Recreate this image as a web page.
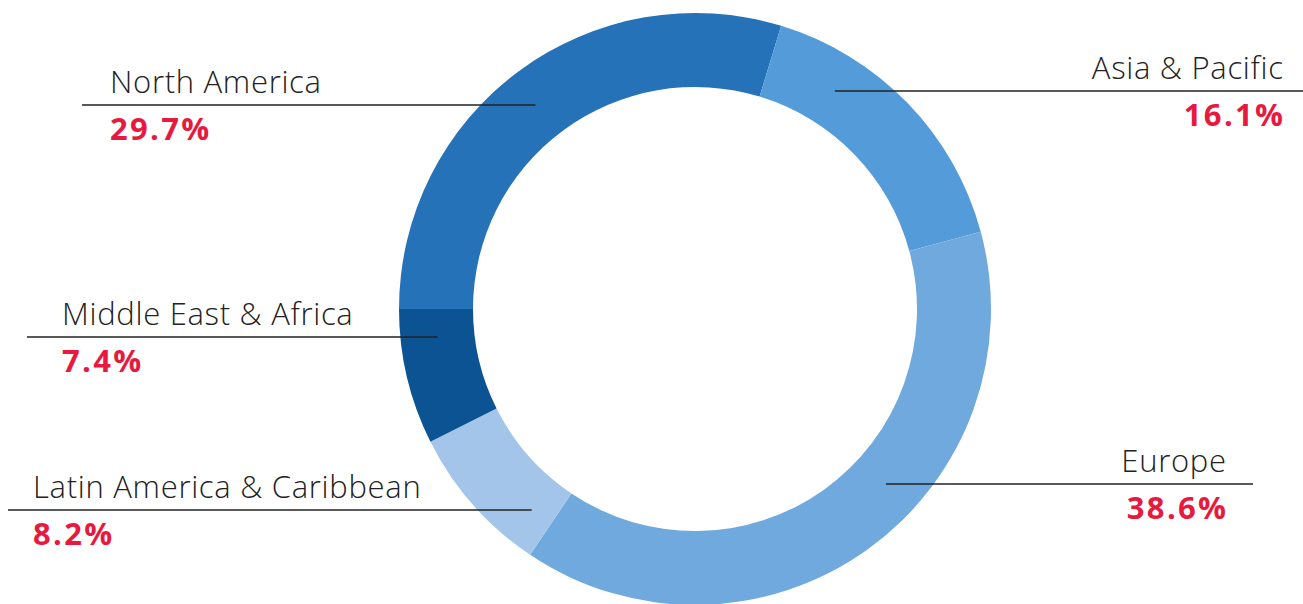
<!DOCTYPE html>
<html>
<head>
<meta charset="utf-8">
<script src="https://cdn.jsdelivr.net/npm/d3@7"></script>
<style>
  body { margin: 0; background: #fff; }
  #chart { width: 1303px; height: 604px; overflow: hidden; }
</style>
</head>
<body>
<div id="chart"></div>
<script>
  // Data
  const regions = [
    "North America",
    "Asia & Pacific",
    "Europe",
    "Latin America & Caribbean",
    "Middle East & Africa"
  ];
  const shares = [29.7, 16.1, 38.6, 8.2, 7.4];
  const colors = ["#2572b8", "#549bd9", "#6fa9dd", "#a2c5e9", "#0c5394"];

  // label layout: leader line y, outer end x, side
  const labelLayout = [
    { y: 105, x: 82, side: "left", textX: 110 },
    { y: 91, x: 1303, side: "right", textX: 1283 },
    { y: 484, x: 1253, side: "right", textX: 1226 },
    { y: 510, x: 8, side: "left", textX: 33 },
    { y: 337, x: 27, side: "left", textX: 62 }
  ];

  const dimensions = {
    width: 1303,
    height: 604,
    cx: 695,
    cy: 309,
    outer: 296,
    inner: 222
  };

  const data = regions.map((r, i) => ({
    region: r,
    value: shares[i],
    color: colors[i],
    layout: labelLayout[i]
  }));

  const svg = d3
    .select("#chart")
    .append("svg")
    .attr("width", dimensions.width)
    .attr("height", dimensions.height);

  const pie = d3
    .pie()
    .sort(null)
    .value((d) => d.value)
    .startAngle(-Math.PI / 2)
    .endAngle((3 * Math.PI) / 2);

  const arc = d3
    .arc()
    .innerRadius(dimensions.inner)
    .outerRadius(dimensions.outer);

  const ring = svg
    .append("g")
    .attr("transform", `translate(${dimensions.cx}, ${dimensions.cy})`);

  ring
    .selectAll("path")
    .data(pie(data))
    .join("path")
    .attr("d", arc)
    .attr("fill", (d) => d.data.color);

  // Leader lines + labels
  const midR = (dimensions.inner + dimensions.outer) / 2;
  const labels = svg.append("g");
  const nameSpacing = 0.7;
  const pctSpacing = 2.3;

  data.forEach((d) => {
    const l = d.layout;
    const dy = l.y - dimensions.cy;
    const dx = Math.sqrt(midR * midR - dy * dy);
    const innerX = l.side === "left" ? dimensions.cx - dx : dimensions.cx + dx;
    const anchor = l.side === "left" ? "start" : "end";
    const isRight = l.side === "right";

    labels
      .append("line")
      .attr("x1", l.x)
      .attr("x2", innerX)
      .attr("y1", l.y)
      .attr("y2", l.y)
      .attr("stroke", "#222")
      .attr("stroke-width", 1.6);

    labels
      .append("text")
      .attr("x", l.textX + (isRight ? nameSpacing : 0))
      .attr("y", l.y - 12)
      .attr("text-anchor", anchor)
      .style("font-family", "'Open Sans', sans-serif")
      .style("font-weight", 300)
      .style("font-size", "31px")
      .style("letter-spacing", nameSpacing + "px")
      .style("fill", "#222")
      .text(d.region);

    labels
      .append("text")
      .attr("x", l.textX + (isRight ? pctSpacing : 0))
      .attr("y", l.y + 35)
      .attr("text-anchor", anchor)
      .style("font-family", "'Open Sans', sans-serif")
      .style("font-weight", 700)
      .style("font-size", "31px")
      .style("letter-spacing", pctSpacing + "px")
      .style("fill", "#e8193f")
      .text(d.value.toFixed(1) + "%");
  });
</script>
</body>
</html>
